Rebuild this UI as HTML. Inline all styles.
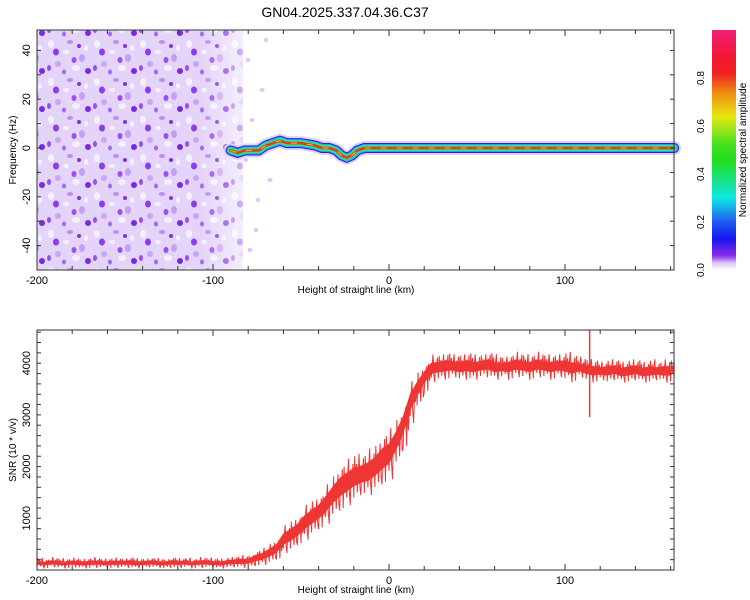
<!DOCTYPE html>
<html><head><meta charset="utf-8">
<style>
body{margin:0;background:#fff;}
svg{display:block;font-family:"Liberation Sans",sans-serif;}
</style></head>
<body>
<svg id="chart" width="750" height="600" viewBox="0 0 750 600">
<defs>
<linearGradient id="cbar" x1="0" y1="1" x2="0" y2="0">
<stop offset="0" stop-color="#ffffff"/>
<stop offset="0.03" stop-color="#d9c2fa"/>
<stop offset="0.06" stop-color="#8a2be8"/>
<stop offset="0.13" stop-color="#1414f0"/>
<stop offset="0.2" stop-color="#1e5af0"/>
<stop offset="0.3" stop-color="#10e8e8"/>
<stop offset="0.45" stop-color="#20dd20"/>
<stop offset="0.52" stop-color="#40e020"/>
<stop offset="0.64" stop-color="#e8e810"/>
<stop offset="0.74" stop-color="#f08a10"/>
<stop offset="0.82" stop-color="#f02020"/>
<stop offset="0.9" stop-color="#f01838"/>
<stop offset="1" stop-color="#f02078"/>
</linearGradient>
<pattern id="noise" width="46" height="38" patternUnits="userSpaceOnUse">
<rect width="46" height="38" fill="#e4d4fa"/>
<ellipse cx="5" cy="6" rx="3" ry="4" fill="#f6f0fe"/>
<ellipse cx="30" cy="30" rx="4" ry="3" fill="#f6f0fe"/>
<ellipse cx="20" cy="14" rx="3" ry="2" fill="#f6f0fe"/>
<ellipse cx="40" cy="10" rx="2" ry="3" fill="#f6f0fe"/>
<ellipse cx="12" cy="26" rx="3" ry="3" fill="#c8a8f5"/>
<ellipse cx="36" cy="20" rx="3" ry="4" fill="#c4a0f4"/>
<ellipse cx="24" cy="4" rx="3" ry="2" fill="#b890f2"/>
<ellipse cx="10" cy="14" rx="3" ry="3.5" fill="#8c3cf0"/>
<ellipse cx="28" cy="22" rx="2.5" ry="3" fill="#9a50f0"/>
<ellipse cx="42" cy="33" rx="3" ry="3" fill="#7a28e8"/>
<ellipse cx="18" cy="34" rx="2" ry="2.5" fill="#a468f2"/>
<ellipse cx="3" cy="30" rx="2" ry="3" fill="#9550f0"/>
<ellipse cx="33" cy="8" rx="2" ry="2" fill="#8030ec"/>
</pattern>
<linearGradient id="fade" x1="0" y1="0" x2="1" y2="0">
<stop offset="0" stop-color="#fff" stop-opacity="0"/>
<stop offset="0.8" stop-color="#fff" stop-opacity="0"/>
<stop offset="1" stop-color="#fff" stop-opacity="0.6"/>
</linearGradient>
</defs>
<text x="345" y="17" font-size="14" text-anchor="middle" fill="#000">GN04.2025.337.04.36.C37</text>
<g id="topPanel"></g>
<g id="cbPanel"></g>
<g id="botPanel"></g>
</svg>
<script>
// ---- data ----
const xTicks = [-200, -100, 0, 100];
const freqTicks = [-40, -20, 0, 20, 40];
const cbTicks = [0.0, 0.2, 0.4, 0.6, 0.8];
const snrTicks = [1000, 2000, 3000, 4000];
// frequency track (ridge)
const trackKm = [-90,-86,-82,-78,-74,-70,-66,-62,-58,-54,-50,-46,-42,-38,-34,-30,-27,-24,-21,-18,-14,-10,0,20,40,60,80,100,106,110,130,150,162];
const trackHz = [-1,-2,-1,-1,-1,1,2,3,2,2,2,1.5,1,0,0,-1,-3,-4,-3,-1,0,0,0,0,0,0,0,0,0,0,0,0,0];
// SNR envelope (4 km step from -200)
const snrKmStart = -200, snrKmStep = 4;
const snrLow = [30,20,40,30,20,40,30,20,30,40,20,30,40,30,20,30,40,30,20,30,30,40,20,30,40,30,20,30,40,30,
  40,60,80,120,180,300,350,450,550,650,750,850,1000,1100,1200,1300,1400,1400,1500,1600,1700,2000,2300,2800,3100,3400,3600,3650,3650,3700,
  3650,3650,3650,3700,3700,3650,3700,3650,3700,3700,3650,3700,3700,3650,3700,3650,3600,3700,3650,3600,3650,3600,3650,3600,3600,3650,3600,3600,3650,3600,3600];
const snrHigh = [250,220,260,240,230,250,220,240,260,230,240,250,230,260,240,230,250,240,220,260,240,250,230,260,250,240,230,260,280,300,
  300,400,450,550,650,900,1000,1100,1300,1400,1500,1700,1900,2100,2200,2300,2300,2400,2500,2700,2800,3000,3300,3700,3900,4050,4200,4200,4250,4200,
  4200,4250,4200,4200,4250,4200,4150,4200,4250,4200,4200,4250,4200,4200,4200,4250,4200,4150,4100,4100,4050,4100,4100,4050,4100,4100,4050,4100,4050,4100,4100];
const spikeKm = [114];
const spikeTop = [4640];
const spikeBottom = [2960];

const NS = "http://www.w3.org/2000/svg";
function mk(parent, tag, attrs){const e=document.createElementNS(NS,tag);for(const k in attrs)e.setAttribute(k,attrs[k]);parent.appendChild(e);return e;}

const PL=37, PR=674;
const xS = km => PL + (km + 200) * 1.76;
const T = {top:30,bot:270}, B = {top:330,bot:570};
const fS = hz => 148 - hz * 2.44;
const sS = v => 570 - v * 0.0517;
const topG = document.getElementById('topPanel');
const botG = document.getElementById('botPanel');
const cbG = document.getElementById('cbPanel');

// ---- spectrogram ----
let e = mk(topG,'rect',{x:PL,y:T.top,width:243-PL,height:T.bot-T.top,fill:'url(#noise)'});


mk(topG,'rect',{x:PL,y:T.top,width:243-PL,height:T.bot-T.top,fill:'url(#fade)'});
const sparse=[[248,60],[252,120],[258,200],[250,250],[262,90],[270,180],[246,160],[256,230],[266,40],[276,140]];
sparse.forEach(p=>mk(topG,'ellipse',{cx:p[0],cy:p[1],rx:2.5,ry:2,fill:'#dcc8f8'}));
let pts = trackKm.map((k,i)=>xS(k)+','+fS(trackHz[i])).join(' ');
const layers=[[14,'#e2d0fa'],[10,'#3018e0'],[8,'#18a8f0'],[6,'#20e8b0'],[4,'#40e030'],[2.5,'#f03030']];
layers.forEach(l=>{
  const p=mk(topG,'polyline',{points:pts,fill:'none',stroke:l[1],'stroke-width':l[0],'stroke-linejoin':'round','stroke-linecap':'round'});
  
  
});
mk(topG,'polyline',{points:pts,fill:'none',stroke:'#e8c020','stroke-width':1,'stroke-dasharray':'6 10'});

function frame(g, P, yTicksMajor, yScale, yMinorStep, yMin, yMax, xname, yname){
  mk(g,'rect',{x:PL,y:P.top,width:PR-PL,height:P.bot-P.top,fill:'none',stroke:'#333','stroke-width':1});
  for(let k=-200;k<=160;k+=20){
    const x=xS(k), L=(k%100===0)?6:4;
    mk(g,'line',{x1:x,y1:P.bot,x2:x,y2:P.bot-L,stroke:'#333'});
    mk(g,'line',{x1:x,y1:P.top,x2:x,y2:P.top+L,stroke:'#333'});
  }
  xTicks.forEach(k=>{
    const t=mk(g,'text',{x:xS(k),y:P.bot+14,'font-size':11,'text-anchor':'middle'});t.textContent=k;
    
    
  });
  for(let v=yMin; v<=yMax; v+=yMinorStep){
    const y=yScale(v); if(y<P.top||y>P.bot) continue;
    mk(g,'line',{x1:PL,y1:y,x2:PL+4,y2:y,stroke:'#333'});
    mk(g,'line',{x1:PR,y1:y,x2:PR-4,y2:y,stroke:'#333'});
  }
  yTicksMajor.forEach(v=>{
    const y=yScale(v);
    const t=mk(g,'text',{x:0,y:0,'font-size':11,'text-anchor':'middle',transform:`translate(30,${y}) rotate(-90)`});t.textContent=v;
    
    
  });
  let t=mk(g,'text',{x:356,y:P.bot+23,'font-size':10,'text-anchor':'middle'});t.textContent=xname;
  
  
  t=mk(g,'text',{x:0,y:0,'font-size':10,'text-anchor':'middle',transform:`translate(16,${(P.top+P.bot)/2}) rotate(-90)`});t.textContent=yname;
  
  
}
frame(topG,T,freqTicks,fS,10,-50,50,'Height of straight line (km)','Frequency (Hz)');

// ---- colorbar ----
e=mk(cbG,'rect',{x:712,y:30,width:24,height:240,fill:'url(#cbar)'});


cbTicks.forEach(v=>{
  const y=270-v*240;
  const t=mk(cbG,'text',{x:0,y:0,'font-size':10,'text-anchor':'middle',transform:`translate(704,${y}) rotate(-90)`});t.textContent=v.toFixed(1);
  
  
});
e=mk(cbG,'text',{x:0,y:0,'font-size':10,'text-anchor':'middle',transform:'translate(746,150) rotate(-90)'});e.textContent='Normalized spectral amplitude';



// ---- SNR ----
// jitter pattern (fractions of band) - visual texture only
const jit=[0.1,0.9,0.4,0.75,0.2,0.6,0.95,0.3,0.05,0.7,0.5,0.85];
let zig=[], ji=0;
snrLow.forEach((v,i)=>{
  const k=snrKmStart+i*snrKmStep;
  if(k>162) return;
  const h=snrHigh[i];
  for(let s=0;s<8;s++){
    const kk=Math.min(k+s*0.5,162);
    const f=jit[ji++%jit.length];
    zig.push(xS(kk)+','+sS(v+(h-v)*f));
  }
});
const fill=[];
snrHigh.forEach((v,i)=>{const k=snrKmStart+i*snrKmStep; if(k<=162){const l=snrLow[i]; fill.push(xS(k)+','+sS(l+(v-l)*0.68));}});
for(let i=snrLow.length-1;i>=0;i--){const k=snrKmStart+i*snrKmStep; if(k<=162){const l=snrLow[i],h=snrHigh[i]; fill.push(xS(k)+','+sS(l+(h-l)*0.32));}}
e=mk(botG,'polygon',{points:fill.join(' '),fill:'#f03535'});


e=mk(botG,'polyline',{points:zig.join(' '),fill:'none',stroke:'#f03535','stroke-width':1,'stroke-linejoin':'bevel'});


spikeKm.forEach((k,i)=>{
  const s=mk(botG,'line',{x1:xS(k),y1:sS(spikeTop[i]),x2:xS(k),y2:sS(spikeBottom[i]),stroke:'#f03535','stroke-width':1.5});
  
  
});
frame(botG,B,snrTicks,sS,200,0,4600,'Height of straight line (km)','SNR (10 * v/v)');
</script>
</body></html>
